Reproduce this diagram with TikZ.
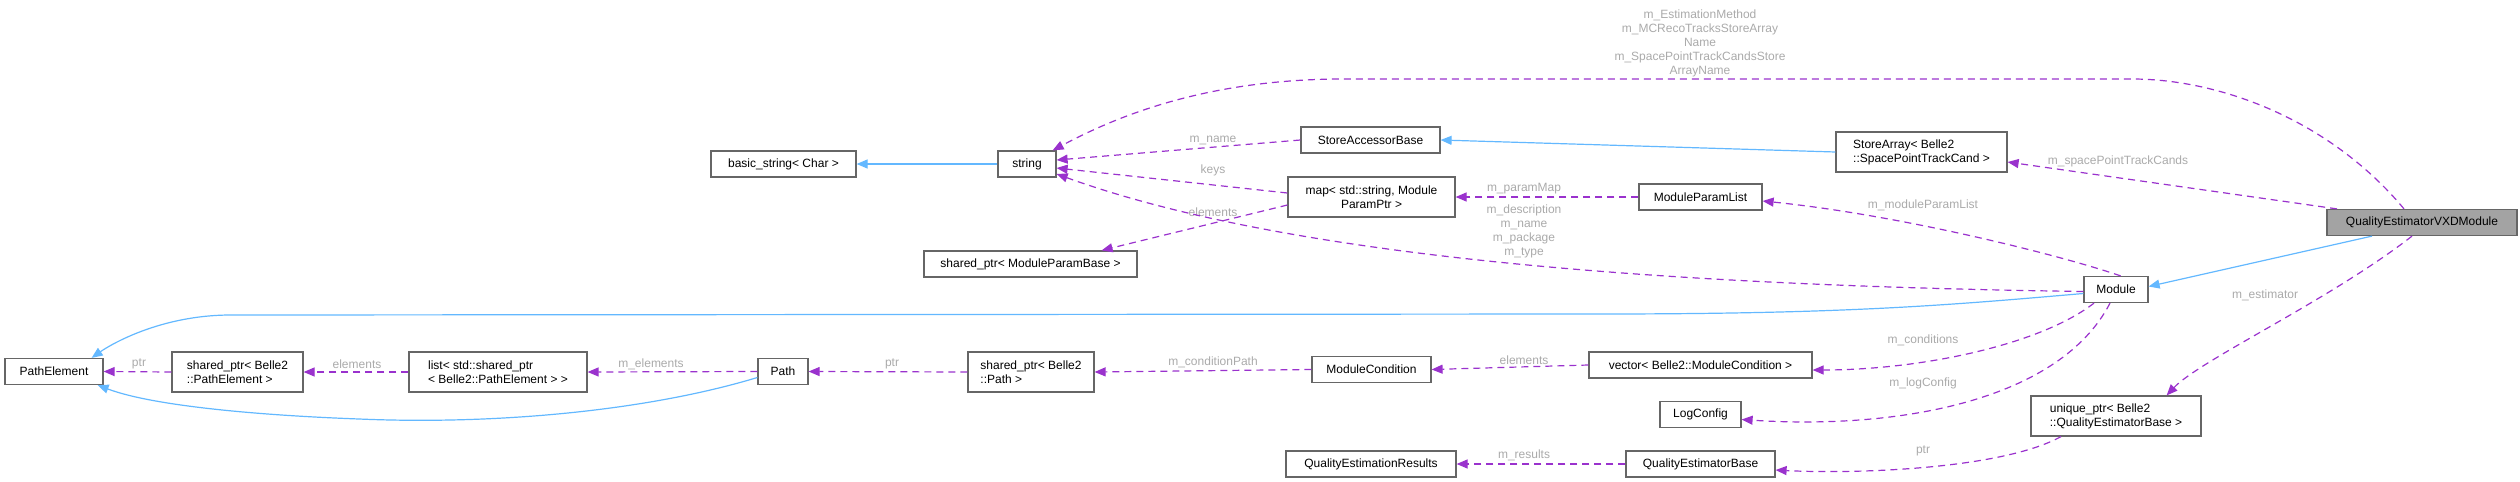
\documentclass[tikz,border=0pt]{standalone}
\usepackage{fontspec}
\setmainfont{Liberation Sans}
\usetikzlibrary{arrows.meta}
\definecolor{pur}{HTML}{9A32CD}
\definecolor{blu}{HTML}{63B8FF}
\definecolor{lbl}{HTML}{AAAAAA}
\definecolor{brd}{HTML}{666666}
\tikzset{
 box/.style={draw=brd,line width=1.2pt,fill=white,minimum height=26pt,inner sep=2pt,font=\fontsize{12}{14}\selectfont},
 box2/.style={box,minimum height=40pt,align=left},
 use/.style={pur,dashed,dash pattern=on 7pt off 5pt,line width=1.2pt,-{Triangle[length=11pt,width=9pt]}},
 inh/.style={blu,line width=1.2pt,-{Triangle[length=11pt,width=9pt]}},
 lab/.style={lbl,font=\fontsize{12}{14}\selectfont,align=center,inner sep=0pt}
}
\begin{document}
\begin{tikzpicture}[x=1pt,y=-1pt]
\useasboundingbox (0,0) rectangle (2520,482);
% nodes
\node[box,fill=gray!80!black!60,minimum width=190pt] (vxd) at (2422,222.5) {QualityEstimatorVXDModule};
\node[box,minimum width=64pt] (mod) at (2116,289.5) {Module};
\node[box2,minimum width=170pt] (uniq) at (2116,416) {unique\_ptr< Belle2\\::QualityEstimatorBase >};
\node[box2,minimum width=171pt] (sarr) at (1921.5,152) {StoreArray< Belle2\\::SpacePointTrackCand >};
\node[box,minimum width=123pt] (mpl) at (1700.5,197) {ModuleParamList};
\node[box,minimum width=223pt] (vec) at (1700.5,365) {vector< Belle2::ModuleCondition >};
\node[box,minimum width=81pt] (log) at (1700.5,414.5) {LogConfig};
\node[box,minimum width=149pt] (qeb) at (1700.5,464) {QualityEstimatorBase};
\node[box,minimum width=139pt] (sab) at (1370.5,140) {StoreAccessorBase};
\node[box2,minimum width=167pt,align=center] (map) at (1371.5,197) {map< std::string, Module\\ParamPtr >};
\node[box,minimum width=119pt] (mc) at (1371.5,369.5) {ModuleCondition};
\node[box,minimum width=170pt] (qer) at (1371,464) {QualityEstimationResults};
\node[box,minimum width=58pt] (str) at (1027,164) {string};
\node[box,minimum width=213pt] (spmpb) at (1030.5,264) {shared\_ptr< ModuleParamBase >};
\node[box2,minimum width=126pt] (spp) at (1031,372) {shared\_ptr< Belle2\\::Path >};
\node[box,minimum width=145pt] (bs) at (783.5,164) {basic\_string< Char >};
\node[box,minimum width=50pt] (path) at (783,371.5) {Path};
\node[box2,minimum width=178pt] (list) at (498,372) {list< std::shared\_ptr\\< Belle2::PathElement > >};
\node[box2,minimum width=131pt] (sppe) at (237.5,372) {shared\_ptr< Belle2\\::PathElement >};
\node[box,minimum width=98pt] (pe) at (54,371.5) {PathElement};
% edges
\draw[use] ([xshift=-18pt]vxd.north) .. controls (2330,120) and (2220,79) .. (2132,79) -- (1344,79) .. controls (1200,79) and (1110,120) .. ([xshift=-4pt]str.north east);
\node[lab] at (1700,43) {m\_EstimationMethod\\m\_MCRecoTracksStoreArray\\Name\\m\_SpacePointTrackCandsStore\\ArrayName};
\draw[use] ([xshift=-85pt]vxd.north) -- ([yshift=-10pt]sarr.east);
\node[lab] at (2118,161) {m\_spacePointTrackCands};
\draw[inh] ([xshift=-50pt]vxd.south) -- ([yshift=3pt]mod.east);
\draw[use] ([xshift=-10pt]vxd.south) .. controls (2330,300) and (2200,360) .. ([xshift=-35pt]uniq.north east);
\node[lab] at (2265,295) {m\_estimator};
\draw[inh] (sarr.west) -- (sab.east);
\draw[use] (sab.west) -- ([yshift=4pt]str.east);
\node[lab] at (1213,140) {m\_name};
\draw[use] ([yshift=4pt]map.west) -- ([yshift=-4pt]str.east);
\node[lab] at (1213,170) {keys};
\draw[use] ([yshift=-8pt]map.west) -- ([xshift=-36pt]spmpb.north east);
\node[lab] at (1213,212) {elements};
\draw[use] (mpl.west) -- (map.east);
\node[lab] at (1524,189) {m\_paramMap};
\draw[use] ([yshift=-2pt]mod.west) .. controls (1700,286) and (1300,262) .. ([yshift=-10pt]str.east);
\node[lab] at (1524,231) {m\_description\\m\_name\\m\_package\\m\_type};
\draw[use] ([xshift=-28pt]mod.north east) .. controls (2060,255) and (1900,215) .. ([yshift=-4pt]mpl.east);
\node[lab] at (1923,205) {m\_moduleParamList};
\draw[inh] ([yshift=-4pt]mod.west) .. controls (1950,305) and (1850,314) .. (1600,314) -- (231,315) .. controls (160,315) and (110,345) .. ([xshift=-12pt]pe.north east);
\draw[use] ([xshift=-22pt]mod.south) .. controls (2040,345) and (1920,370) .. ([yshift=-5pt]vec.east);
\node[lab] at (1923,340) {m\_conditions};
\draw[use] ([xshift=-6pt]mod.south) .. controls (2060,400) and (1900,430) .. ([yshift=-5pt]log.east);
\node[lab] at (1923,383) {m\_logConfig};
\draw[use] (vec.west) -- (mc.east);
\node[lab] at (1524,360) {elements};
\draw[use] (mc.west) -- (spp.east);
\node[lab] at (1213,362) {m\_conditionPath};
\draw[use] (spp.west) -- (path.east);
\node[lab] at (892,364) {ptr};
\draw[use] (path.west) -- (list.east);
\node[lab] at (651,364) {m\_elements};
\draw[use] (list.west) -- (sppe.east);
\node[lab] at (357,364) {elements};
\draw[use] (sppe.west) -- (pe.east);
\node[lab] at (139,364) {ptr};
\draw[inh] ([yshift=-6pt]path.west) .. controls (650,410) and (500,425) .. (359,419) .. controls (250,415) and (150,405) .. ([xshift=-6pt]pe.south east);
\draw[use] ([xshift=-55pt]uniq.south) .. controls (2000,470) and (1850,474) .. ([yshift=-6pt]qeb.east);
\node[lab] at (1923,451) {ptr};
\draw[use] (qeb.west) -- (qer.east);
\node[lab] at (1524,455) {m\_results};
\draw[inh] (str.west) -- (bs.east);
\end{tikzpicture}
\end{document}
